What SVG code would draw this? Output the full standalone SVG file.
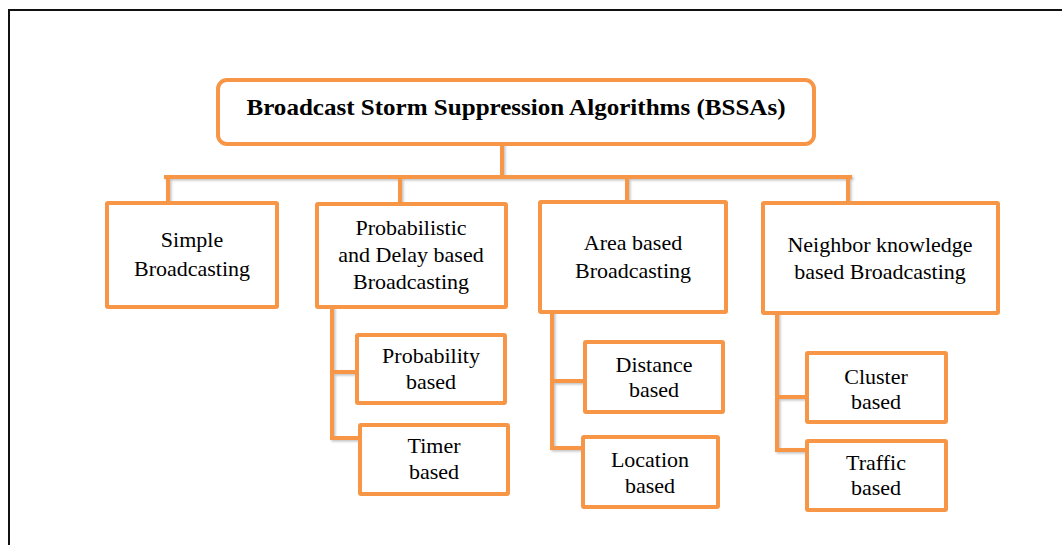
<svg xmlns="http://www.w3.org/2000/svg" width="1062" height="545" viewBox="0 0 1062 545">
<style>
.box{fill:#ffffff;stroke:#F79646;stroke-width:4}
.con{fill:none;stroke:#F79646;stroke-width:4;stroke-linecap:square}
.t{font-family:"Liberation Serif","Times New Roman",serif;font-size:22px;fill:#000;text-anchor:middle}
.title{font-family:"Liberation Serif","Times New Roman",serif;font-size:24px;font-weight:bold;fill:#000;text-anchor:middle}
</style>
<defs>
<filter id="sh" x="-10%" y="-10%" width="130%" height="130%">
<feDropShadow dx="1.5" dy="1.5" stdDeviation="1" flood-color="#777" flood-opacity="0.45"/>
</filter>
</defs>
<rect width="1062" height="545" fill="#ffffff"/>
<path d="M9,545 V10 H1062" fill="none" stroke="#111" stroke-width="2"/>
<g id="connectors" filter="url(#sh)">
<path class="con" d="M502,145 V177"/>
<path class="con" d="M166,177 H850"/>
<path class="con" d="M168,177 V203"/>
<path class="con" d="M400,177 V204"/>
<path class="con" d="M627,177 V202"/>
<path class="con" d="M848,177 V203"/>
<path class="con" d="M332,307 V438 H360"/>
<path class="con" d="M332,372 H357"/>
<path class="con" d="M552,312 V448 H583"/>
<path class="con" d="M552,381 H585"/>
<path class="con" d="M777,313 V450 H807"/>
<path class="con" d="M777,397 H807"/>
</g>
<g id="root">
<rect class="box" x="218" y="80" width="596" height="64" rx="9"/>
<text class="title" x="516" y="115" textLength="539" lengthAdjust="spacingAndGlyphs">Broadcast Storm Suppression Algorithms (BSSAs)</text>
</g>
<g id="simple">
<rect class="box" x="107" y="203" width="170" height="104" rx="1"/>
<text class="t" x="192" y="247">Simple</text>
<text class="t" x="192" y="276">Broadcasting</text>
</g>
<g id="probabilistic">
<rect class="box" x="317" y="204" width="189" height="103" rx="1"/>
<text class="t" x="411" y="235">Probabilistic</text>
<text class="t" x="411" y="262">and Delay based</text>
<text class="t" x="411" y="289">Broadcasting</text>
</g>
<g id="area">
<rect class="box" x="540" y="202" width="186" height="110" rx="1"/>
<text class="t" x="633" y="250">Area based</text>
<text class="t" x="633" y="278">Broadcasting</text>
</g>
<g id="neighbor">
<rect class="box" x="763" y="203" width="235" height="110" rx="1"/>
<text class="t" x="880" y="252">Neighbor knowledge</text>
<text class="t" x="880" y="279">based Broadcasting</text>
</g>
<g id="probability">
<rect class="box" x="357" y="335" width="148" height="68" rx="1"/>
<text class="t" x="431" y="363">Probability</text>
<text class="t" x="431" y="389">based</text>
</g>
<g id="timer">
<rect class="box" x="360" y="425" width="148" height="69" rx="1"/>
<text class="t" x="434" y="453">Timer</text>
<text class="t" x="434" y="479">based</text>
</g>
<g id="distance">
<rect class="box" x="585" y="342" width="138" height="70" rx="1"/>
<text class="t" x="654" y="372">Distance</text>
<text class="t" x="654" y="397">based</text>
</g>
<g id="location">
<rect class="box" x="583" y="437" width="135" height="70" rx="1"/>
<text class="t" x="650" y="467">Location</text>
<text class="t" x="650" y="493">based</text>
</g>
<g id="cluster">
<rect class="box" x="807" y="353" width="139" height="69" rx="1"/>
<text class="t" x="876" y="384">Cluster</text>
<text class="t" x="876" y="409">based</text>
</g>
<g id="traffic">
<rect class="box" x="807" y="441" width="139" height="69" rx="1"/>
<text class="t" x="876" y="470">Traffic</text>
<text class="t" x="876" y="495">based</text>
</g>
</svg>
